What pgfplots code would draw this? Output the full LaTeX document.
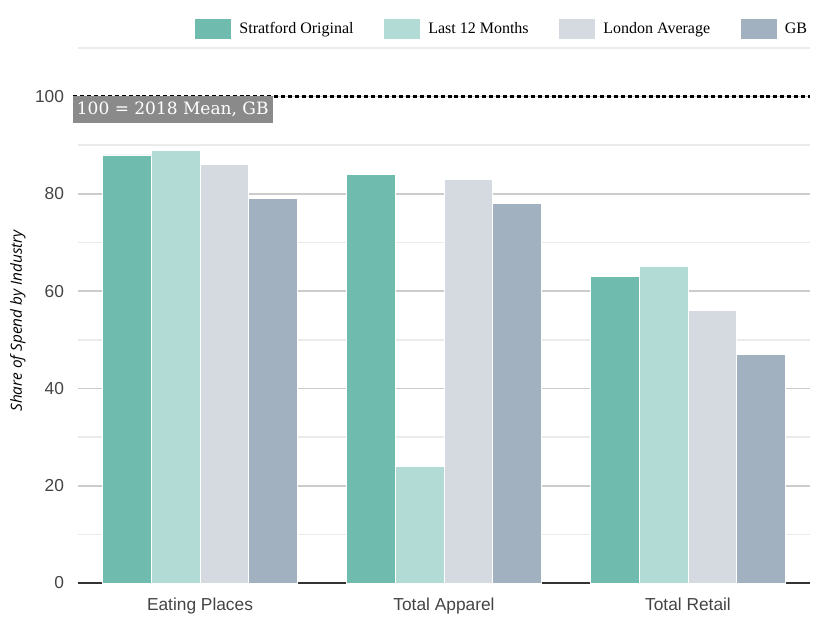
\documentclass[border=0pt]{standalone}
\usepackage{pgfplots}
\pgfplotsset{compat=1.18}
\usepackage{fontspec}
\setmainfont{Liberation Sans}
\newfontfamily\legfont{Liberation Serif}
\newfontfamily\boxfont{DejaVu Serif}
\newfontfamily\labfont{Open Sans}
\definecolor{cA}{HTML}{6FBBAD}
\definecolor{cB}{HTML}{B2DBD6}
\definecolor{cC}{HTML}{D5DAE1}
\definecolor{cD}{HTML}{A2B1C0}
\definecolor{gridA}{HTML}{CCCCCC}
\definecolor{gridB}{HTML}{EBEBEB}
\definecolor{axisC}{HTML}{333333}
\definecolor{tickC}{HTML}{444444}
\definecolor{boxC}{HTML}{8A8A8A}
\begin{document}
\begin{tikzpicture}
\begin{axis}[
  width=549pt, height=401.25pt, scale only axis,
  xmin=-0.5, xmax=2.5, ymin=0, ymax=110,
  ybar=0pt, bar width=0.2,
  xtick={0,1,2}, xticklabels={Eating Places, Total Apparel, Total Retail},
  ytick={0,20,...,100}, minor ytick={10,30,50,70,90,110},
  ymajorgrids, yminorgrids,
  major grid style={draw=gridA, line width=1.2pt},
  minor grid style={draw=gridB, line width=1.2pt},
  axis x line*=bottom, axis y line*=left,
  y axis line style={draw=none},
  x axis line style={draw=axisC, line width=1.7pt, -},
  major tick length=0pt, minor tick length=0pt,
  /pgf/number format/assume math mode=true,
  tick label style={text=tickC},
  xticklabel style={font=\fontsize{13}{15}\selectfont, yshift=-8pt},
  yticklabel style={font=\fontsize{13}{15}\selectfont, xshift=-7pt},
  ylabel={Share of Spend by Industry},
  ylabel style={font=\labfont\itshape\fontsize{11.5}{13}\selectfont, at={(axis description cs:-0.082,0.49)}, anchor=center},
  legend style={at={(1,1)}, anchor=east, yshift=14.25pt, draw=none, fill=none, inner sep=0pt,
    font=\legfont\fontsize{12}{14}\selectfont, legend columns=4,
    /tikz/every odd column/.append style={column sep=4pt},
    /tikz/every even column/.append style={column sep=21pt}},
  legend image code/.code={\fill[#1, draw=none] (0pt,-7.5pt) rectangle (27pt,7.5pt);},
  legend cell align=left,
  clip=false,
]
\addplot[fill=cA, draw=white, line width=0.6pt] coordinates {(0,88) (1,84) (2,63)};
\addplot[fill=cB, draw=white, line width=0.6pt] coordinates {(0,89) (1,24) (2,65)};
\addplot[fill=cC, draw=white, line width=0.6pt] coordinates {(0,86) (1,83) (2,56)};
\addplot[fill=cD, draw=white, line width=0.6pt] coordinates {(0,79) (1,78) (2,47)};
\legend{Stratford Original, Last 12 Months, London Average, GB}
\addplot[sharp plot, black, line width=1.8pt, dash pattern=on 3pt off 2.2pt, forget plot] coordinates {(-0.52,100) (2.5,100)};
\node[fill=boxC, text=white, anchor=north west, font=\boxfont\fontsize{12.75}{15}\selectfont, inner xsep=3pt, inner ysep=0pt, minimum height=20pt, xshift=-4pt, yshift=0.3pt] at (axis cs:-0.5,100) {100 = 2018 Mean, GB};
\end{axis}
\pgfresetboundingbox
\path (current axis.south west) ++(-58.5pt,-25.5pt) rectangle ([shift={(13.5pt,36pt)}]current axis.north east);
\end{tikzpicture}
\end{document}
